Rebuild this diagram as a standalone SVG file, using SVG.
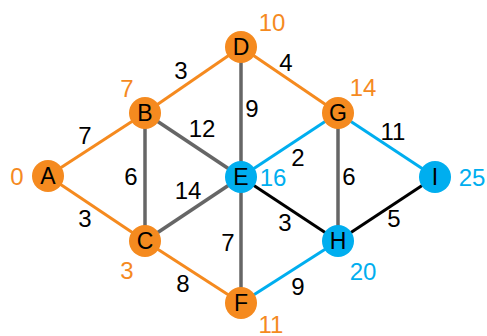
<svg xmlns="http://www.w3.org/2000/svg" width="487" height="336" viewBox="0 0 487 336">
<style>
.e{stroke-width:3;fill:none}
.o{stroke:#F58A1F}
.b{stroke:#00AEEF}
.g{stroke:#666666;stroke-width:3.5}
.k{stroke:#000000}
.no{fill:#F58A1F}
.nb{fill:#00AEEF}
text{font-family:"Liberation Sans",Arial,sans-serif;font-size:23px;text-anchor:middle;dominant-baseline:central}
.w{fill:#000;font-size:24px}
.to{fill:#F58A1F;font-size:24px}
.tb{fill:#00AEEF;font-size:24px}
</style>
<rect width="487" height="336" fill="#fff"/>
<g id="connectors">
<line class="e o" x1="48" y1="176" x2="145" y2="113"/>
<line class="e o" x1="48" y1="176" x2="145" y2="241"/>
<line class="e o" x1="145" y1="113" x2="241" y2="47"/>
<line class="e g" x1="145" y1="113" x2="145" y2="241"/>
<line class="e g" x1="145" y1="113" x2="241" y2="177"/>
<line class="e g" x1="145" y1="241" x2="241" y2="177"/>
<line class="e o" x1="145" y1="241" x2="241" y2="303"/>
<line class="e g" x1="241" y1="47" x2="241" y2="177"/>
<line class="e o" x1="241" y1="47" x2="338" y2="113"/>
<line class="e b" x1="241" y1="177" x2="338" y2="113"/>
<line class="e k" x1="241" y1="177" x2="338" y2="241"/>
<line class="e g" x1="241" y1="177" x2="241" y2="303"/>
<line class="e g" x1="338" y1="113" x2="338" y2="241"/>
<line class="e b" x1="338" y1="113" x2="435" y2="177"/>
<line class="e k" x1="338" y1="241" x2="435" y2="177"/>
<line class="e b" x1="241" y1="303" x2="338" y2="241"/>
<text class="w" x="85" y="135">7</text>
<text class="w" x="85" y="218">3</text>
<text class="w" x="181" y="70">3</text>
<text class="w" x="131" y="176">6</text>
<text class="w" x="202" y="128">12</text>
<text class="w" x="188" y="190">14</text>
<text class="w" x="183" y="283">8</text>
<text class="w" x="228" y="242">7</text>
<text class="w" x="252" y="108">9</text>
<text class="w" x="286" y="62">4</text>
<text class="w" x="298" y="157">2</text>
<text class="w" x="393" y="131">11</text>
<text class="w" x="349" y="176">6</text>
<text class="w" x="285" y="222">3</text>
<text class="w" x="394" y="218">5</text>
<text class="w" x="298" y="286">9</text>
</g>
<g id="A"><circle class="no" cx="48" cy="176" r="16"/><text x="48" y="176">A</text><text class="to" x="17" y="176">0</text></g>
<g id="B"><circle class="no" cx="145" cy="113" r="16"/><text x="145" y="113">B</text><text class="to" x="127" y="88">7</text></g>
<g id="C"><circle class="no" cx="145" cy="241" r="16"/><text x="145" y="241">C</text><text class="to" x="127" y="270">3</text></g>
<g id="D"><circle class="no" cx="241" cy="47" r="16"/><text x="241" y="47">D</text><text class="to" x="272" y="22">10</text></g>
<g id="E"><circle class="nb" cx="241" cy="177" r="16"/><text x="241" y="177">E</text><text class="tb" x="273" y="177">16</text></g>
<g id="F"><circle class="no" cx="241" cy="303" r="16"/><text x="241" y="303">F</text><text class="to" x="271" y="324">11</text></g>
<g id="G"><circle class="no" cx="338" cy="113" r="16"/><text x="338" y="113">G</text><text class="to" x="363" y="87">14</text></g>
<g id="H"><circle class="nb" cx="338" cy="241" r="16"/><text x="338" y="241">H</text><text class="tb" x="363" y="271">20</text></g>
<g id="I"><circle class="nb" cx="435" cy="177" r="16"/><text x="435" y="177">I</text><text class="tb" x="472" y="177">25</text></g>
</svg>
